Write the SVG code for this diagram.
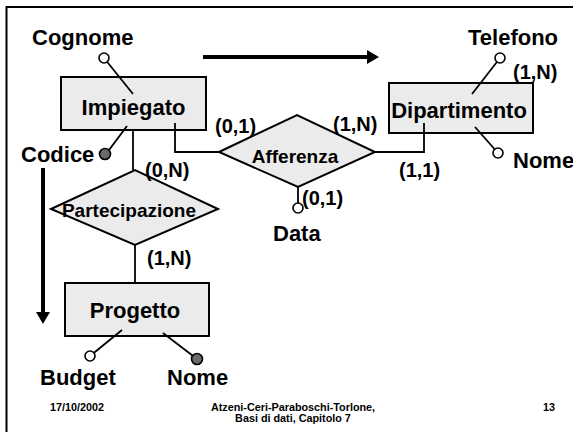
<svg xmlns="http://www.w3.org/2000/svg" width="573" height="432" viewBox="0 0 573 432">
<defs>
<style>
text{font-family:"Liberation Sans",Arial,sans-serif;font-weight:bold;fill:#000}
.name{font-size:22px}
.rel{font-size:19px}
.card{font-size:20px}
.foot{font-size:10.8px}
.ent{fill:#EBEBEB;stroke:#000;stroke-width:2}
.dia{fill:#EBEBEB;stroke:#000;stroke-width:2}
.ln{fill:none;stroke:#000;stroke-width:1.8}
.open{fill:#fff;stroke:#000;stroke-width:1.6}
.key{fill:#6b6b6b;stroke:#000;stroke-width:1.6}
.big{fill:none;stroke:#000;stroke-width:4}
</style>
<marker id="ah" viewBox="0 0 12 14" refX="0" refY="7" markerUnits="userSpaceOnUse" markerWidth="12" markerHeight="14" orient="auto">
<path d="M0,0 L12,7 L0,14 Z" fill="#000"/>
</marker>
</defs>
<rect width="573" height="432" fill="#fff"/>
<path d="M6.5,432 V7 H573" fill="none" stroke="#000" stroke-width="2"/>

<g id="Impiegato">
<rect class="ent" x="61" y="77" width="145" height="53"/>
<text class="name" x="133.5" y="115" text-anchor="middle">Impiegato</text>
</g>
<g id="Dipartimento">
<rect class="ent" x="389" y="83" width="144" height="50"/>
<text class="name" x="459" y="118" text-anchor="middle">Dipartimento</text>
</g>
<g id="Progetto">
<rect class="ent" x="65" y="283" width="144" height="53"/>
<text class="name" x="135" y="318" text-anchor="middle">Progetto</text>
</g>
<g id="Afferenza">
<polygon class="dia" points="219,152 297,115 375,152 298,187"/>
<text class="rel" x="295" y="163" text-anchor="middle">Afferenza</text>
</g>
<g id="Partecipazione">
<polygon class="dia" points="51,209 135,170 218,209 135,245"/>
<text class="rel" x="129" y="217" text-anchor="middle">Partecipazione</text>
</g>

<g id="connectors">
<line class="ln" x1="133" y1="130" x2="133" y2="170"/>
<line class="ln" x1="135" y1="245" x2="135" y2="283"/>
<polyline class="ln" points="175,123 175,152 219,152"/>
<polyline class="ln" points="375,152 424,152 424,123"/>
<line class="ln" x1="298" y1="187" x2="298" y2="203" stroke-width="2.5"/>
<line class="ln" x1="133" y1="94" x2="104" y2="58"/>
<line class="ln" x1="127" y1="126" x2="106" y2="154"/>
<line class="ln" x1="472" y1="94" x2="500" y2="58"/>
<line class="ln" x1="475" y1="127" x2="498" y2="153"/>
<line class="ln" x1="122" y1="330" x2="90" y2="356"/>
<line class="ln" x1="163" y1="333" x2="197" y2="359"/>
<text class="card" x="215" y="133">(0,1)</text>
<text class="card" x="333" y="131">(1,N)</text>
<text class="card" x="399" y="177">(1,1)</text>
<text class="card" x="302" y="205">(0,1)</text>
<text class="card" x="145" y="177">(0,N)</text>
<text class="card" x="147" y="265">(1,N)</text>
<text class="card" x="513" y="79">(1,N)</text>
</g>

<g id="arrows">
<line class="big" x1="203" y1="57" x2="367" y2="57" marker-end="url(#ah)"/>
<line class="big" x1="43" y1="168" x2="43" y2="312" marker-end="url(#ah)"/>
</g>

<g id="attr-Cognome">
<circle class="open" cx="104" cy="58" r="5"/>
<text class="name" x="32" y="45">Cognome</text>
</g>
<g id="attr-Codice">
<circle class="key" cx="105" cy="154" r="5.5"/>
<text class="name" x="21" y="162">Codice</text>
</g>
<g id="attr-Telefono">
<circle class="open" cx="500" cy="58" r="5"/>
<text class="name" x="468" y="45">Telefono</text>
</g>
<g id="attr-NomeDip">
<circle class="open" cx="498" cy="153" r="5"/>
<text class="name" x="513" y="168">Nome</text>
</g>
<g id="attr-Data">
<circle class="open" cx="298" cy="208" r="5"/>
<text class="name" x="273" y="241">Data</text>
</g>
<g id="attr-Budget">
<circle class="open" cx="90" cy="356" r="5"/>
<text class="name" x="40" y="385">Budget</text>
</g>
<g id="attr-NomeProg">
<circle class="key" cx="197" cy="359" r="5.5"/>
<text class="name" x="167" y="385">Nome</text>
</g>

<g id="footer">
<text class="foot" x="50" y="411">17/10/2002</text>
<text class="foot" x="293" y="411" text-anchor="middle">Atzeni-Ceri-Paraboschi-Torlone,</text>
<text class="foot" x="293" y="422" text-anchor="middle">Basi di dati, Capitolo 7</text>
<text class="foot" x="543" y="411">13</text>
</g>
</svg>
